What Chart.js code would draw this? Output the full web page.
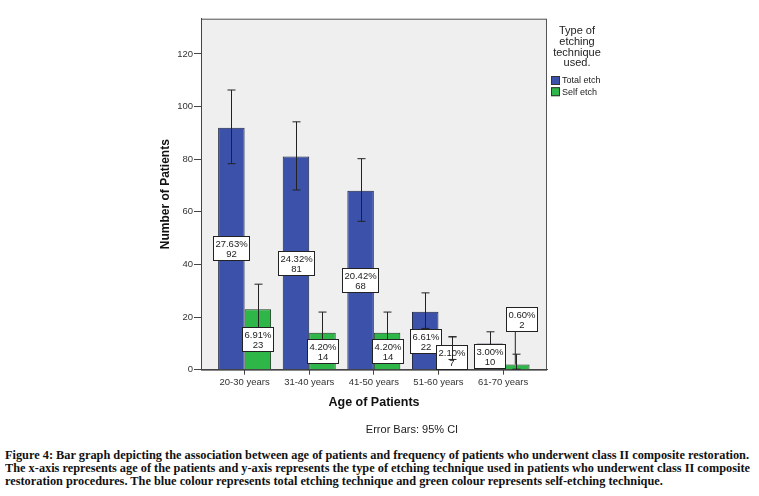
<!DOCTYPE html>
<html>
<head>
<meta charset="utf-8">
<script src="https://cdn.jsdelivr.net/npm/chart.js@4"></script>
<style>
body { margin: 0; background: #fff; width: 759px; height: 496px; overflow: hidden; position: relative; }
#caja { position: absolute; left: 0; top: 0; width: 759px; height: 440px; }
.pie { position: absolute; left: 5px; font: bold 12px "Liberation Serif", "DejaVu Serif", serif; white-space: nowrap; transform-origin: 0 0; color: #111; line-height: 13px; }
</style>
</head>
<body>
<div id="caja"><canvas id="grafico" width="759" height="440"></canvas></div>
<div class="pie" style="top:449px">Figure 4: Bar graph depicting the association between age of patients and frequency of patients who underwent class II composite restoration.</div>
<div class="pie" style="top:462px">The x-axis represents age of the patients and y-axis represents the type of etching technique used in patients who underwent class II composite</div>
<div class="pie" style="top:475px">restoration procedures. The blue colour represents total etching technique and green colour represents self-etching technique.</div>
<script>
const edades = ['20-30 years', '31-40 years', '41-50 years', '51-60 years', '61-70 years'];
const totalEtch = [92, 81, 68, 22, 10];
const selfEtch = [23, 14, 14, 7, 2];
const totalPct = ['27.63%', '24.32%', '20.42%', '6.61%', '3.00%'];
const selfPct = ['6.91%', '4.20%', '4.20%', '2.10%', '0.60%'];
const totalBajo = [78.3, 68.3, 56.4, 15.7, 5.6];
const totalAlto = [106.3, 94.2, 80.2, 29.2, 14.4];
const selfBajo = [15.8, 8.3, 8.3, 3.9, 0.2];
const selfAlto = [32.5, 21.9, 21.9, 12.5, 5.9];
const marcasY = [0, 20, 40, 60, 80, 100, 120];

const azul = 'rgb(60, 82, 170)';
const verde = 'rgb(46, 182, 72)';

function barraError(ctx, x, yBajo, yAlto) {
    ctx.beginPath();
    ctx.moveTo(x, yBajo); ctx.lineTo(x, yAlto);
    ctx.moveTo(x - 4, yAlto); ctx.lineTo(x + 4, yAlto);
    ctx.moveTo(x - 4, yBajo); ctx.lineTo(x + 4, yBajo);
    ctx.stroke();
}

function etiqueta(ctx, bar, pct, valor, yAlto) {
    ctx.font = '9.5px "Liberation Sans", Arial, sans-serif';
    const w = Math.max(ctx.measureText(pct).width, ctx.measureText(String(valor)).width) + 4;
    const h = 24;
    let cx = bar.x, cy = (bar.y + bar.base) / 2, recortada = false;
    if (bar.base - bar.y < h / 2) {
        cy = yAlto - 35;
        cx = bar.x + 5;
        ctx.beginPath();
        ctx.moveTo(bar.x - 1, cy + h / 2);
        ctx.lineTo(bar.x - 1, bar.y);
        ctx.stroke();
    } else if (cy + h / 2 > bar.base - 0.5) {
        cy = bar.base - 0.5 - h / 2;
        recortada = true;
    }
    const x0 = Math.round(cx - w / 2) + 0.5, y0 = Math.round(cy - h / 2) + 0.5;
    ctx.fillStyle = '#fff';
    ctx.fillRect(x0, y0, Math.round(w), h);
    ctx.strokeRect(x0, y0, Math.round(w), h);
    ctx.fillStyle = '#222';
    ctx.textAlign = 'center';
    ctx.textBaseline = 'middle';
    ctx.fillText(pct, x0 + Math.round(w) / 2, y0 + h / 2 - 4.5);
    ctx.fillText(String(valor), x0 + Math.round(w) / 2, y0 + h / 2 + 5.5);
    return recortada;
}

const fondo = {
    id: 'fondo',
    beforeDraw(chart) {
        const { ctx, chartArea: a } = chart;
        ctx.save();
        ctx.fillStyle = '#efefef';
        ctx.fillRect(a.left, a.top, a.right - a.left, a.bottom - a.top);
        ctx.strokeStyle = '#555';
        ctx.lineWidth = 1;
        ctx.strokeRect(a.left + 0.5, a.top + 0.5, a.right - a.left - 1, a.bottom - a.top);
        ctx.restore();
    },
    afterDatasetsDraw(chart) {
        const ctx = chart.ctx;
        const y = chart.scales.y;
        const grupos = [
            { meta: chart.getDatasetMeta(0), bajo: totalBajo, alto: totalAlto, pct: totalPct, val: totalEtch },
            { meta: chart.getDatasetMeta(1), bajo: selfBajo, alto: selfAlto, pct: selfPct, val: selfEtch }
        ];
        ctx.save();
        ctx.strokeStyle = '#222';
        ctx.lineWidth = 1;
        grupos.forEach(g => g.meta.data.forEach((bar, i) => {
            barraError(ctx, Math.round(bar.x) + 0.5, y.getPixelForValue(g.bajo[i]), y.getPixelForValue(g.alto[i]));
        }));
        const repetir = [];
        grupos.forEach(g => g.meta.data.forEach((bar, i) => {
            ctx.strokeStyle = '#222';
            if (etiqueta(ctx, bar, g.pct[i], g.val[i], y.getPixelForValue(g.alto[i]))) repetir.push([g, i, bar]);
        }));
        ctx.strokeStyle = '#222';
        repetir.forEach(([g, i, bar]) => {
            barraError(ctx, Math.round(bar.x) + 0.5, y.getPixelForValue(g.bajo[i]), y.getPixelForValue(g.alto[i]));
        });
        ctx.restore();
    },
    afterDraw(chart) {
        const ctx = chart.ctx;
        ctx.save();
        ctx.fillStyle = '#222';
        ctx.textAlign = 'center';
        ctx.textBaseline = 'middle';
        ctx.font = '11px "Liberation Sans", Arial, sans-serif';
        ['Type of', 'etching', 'technique', 'used.'].forEach((t, i) => ctx.fillText(t, 577, 31 + i * 10.8));
        ctx.fillText('Error Bars: 95% CI', 412, 430);
        ctx.textAlign = 'left';
        ctx.font = '9px "Liberation Sans", Arial, sans-serif';
        [['Total etch', azul], ['Self etch', verde]].forEach(([t, c], i) => {
            const yy = 80.5 + i * 11.2;
            ctx.fillStyle = c;
            ctx.fillRect(551, yy - 4.5, 9, 9);
            ctx.strokeStyle = '#333';
            ctx.strokeRect(551.5, yy - 4, 8, 8);
            ctx.fillStyle = '#222';
            ctx.fillText(t, 562, yy + 0.5);
        });
        ctx.restore();
    }
};

const grafico = document.getElementById('grafico').getContext('2d');
new Chart(grafico, {
    type: 'bar',
    data: {
        datasets: [{
            label: 'Total etch',
            data: totalEtch.map((v, i) => ({ x: i, y: v })),
            backgroundColor: azul,
            borderColor: '#1c2340',
            borderWidth: 1
        }, {
            label: 'Self etch',
            data: selfEtch.map((v, i) => ({ x: i, y: v })),
            backgroundColor: verde,
            borderColor: '#1c3a20',
            borderWidth: 1
        }]
    },
    options: {
        responsive: false,
        animation: false,
        devicePixelRatio: 1,
        categoryPercentage: 0.82,
        barPercentage: 1,
        layout: { padding: { left: 150, right: 212, top: 18.7, bottom: 0 } },
        plugins: { legend: { display: false }, tooltip: { enabled: false } },
        scales: {
            x: {
                type: 'linear',
                min: -0.675,
                max: 4.68,
                offset: false,
                afterBuildTicks: s => { s.ticks = edades.map((e, i) => ({ value: i })); },
                afterFit: s => { s.height = 70.3; },
                ticks: {
                    callback: v => edades[v],
                    color: '#333',
                    font: { size: 9.5, family: '"Liberation Sans", Arial, sans-serif' },
                    padding: 2,
                    maxRotation: 0
                },
                grid: { drawOnChartArea: false, tickLength: 5, color: '#444', offset: false },
                border: { color: '#444' },
                title: {
                    display: true,
                    text: 'Age of Patients',
                    color: '#111',
                    font: { size: 12.5, weight: 'bold', family: '"Liberation Sans", Arial, sans-serif' },
                    padding: { top: 0, bottom: 29.5 }
                }
            },
            y: {
                min: 0,
                max: 133.4,
                afterBuildTicks: s => { s.ticks = marcasY.map(v => ({ value: v })); },
                afterFit: s => { s.width = 51; },
                ticks: {
                    color: '#333',
                    font: { size: 9.5, family: '"Liberation Sans", Arial, sans-serif' },
                    padding: 1
                },
                grid: { drawOnChartArea: false, tickLength: 7, color: '#444' },
                border: { color: '#444' },
                title: {
                    display: true,
                    text: 'Number of Patients',
                    color: '#111',
                    font: { size: 12, weight: 'bold', family: '"Liberation Sans", Arial, sans-serif' },
                    padding: { top: 8, bottom: 0 }
                }
            }
        }
    },
    plugins: [fondo]
});

// ajustar el ancho del pie de figura
const lineas = document.querySelectorAll('.pie');
const escala = 744 / lineas[0].getBoundingClientRect().width;
lineas.forEach(l => { l.style.transform = 'scaleX(' + escala + ')'; });
</script>
</body>
</html>
